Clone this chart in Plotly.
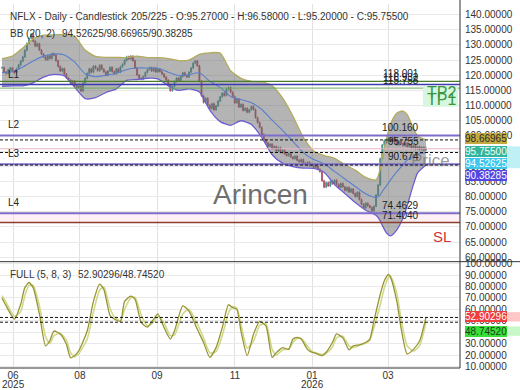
import plotly.graph_objects as go

# ---------------- data ----------------
closes = [
    122.5, 121.0, 120.6, 121.8, 122.4, 121.3, 120.8, 122.1, 123.4,
    124.6, 126.0, 128.2, 130.5, 132.2, 133.6,
    131.2, 129.6, 130.4, 128.3, 127.0, 126.0, 125.1, 126.4, 125.5,
    127.1, 126.6,
    124.8, 122.9, 121.4, 122.2, 120.4, 119.1, 118.4, 117.3, 118.1, 116.5, 115.8, 116.4,
    114.8,
    117.4, 119.0, 120.6, 122.1, 121.0, 123.0, 122.3, 121.5, 123.3, 122.0, 121.1, 120.0, 121.4,
    122.6, 121.2, 120.5, 122.1, 121.0, 122.8, 123.6,
    124.9, 126.1, 125.4, 126.3, 124.8, 122.4,
    120.1, 119.0, 118.7, 119.6,
    120.9, 121.9, 122.5, 121.4, 122.4, 121.1, 122.0, 121.2,
    120.4, 119.4, 118.4,
    116.8, 114.9,
    116.3, 117.9, 119.1, 118.2, 119.6, 120.8, 119.9, 119.4, 121.0, 122.4,
    124.0, 124.7, 123.1,
    118.0, 113.2, 111.0, 112.4, 110.1, 109.0, 110.6, 108.6,
    109.9, 111.5, 112.9, 114.1, 113.3, 115.4, 116.0,
    114.4, 113.0, 110.9, 112.1, 109.5, 110.4, 108.4,
    109.1, 107.8, 108.6, 109.7, 108.7,
    106.0, 104.4, 102.8, 100.5, 98.6,
    97.7, 96.6, 97.3, 95.8, 96.5, 95.0, 96.1, 94.5, 95.3, 94.0, 93.5, 94.2,
    93.0, 92.5, 93.3, 92.0, 91.5, 92.2, 91.0, 90.5, 91.3, 90.2, 90.8, 89.6, 90.1, 89.0, 88.2,
    85.2, 83.1, 84.6, 83.5, 85.0, 84.2, 85.4,
    84.0, 83.0, 84.3, 83.2, 82.0, 83.0, 81.5,
    82.5, 81.0, 80.0, 81.4, 79.0, 77.5, 76.2,
    77.8, 77.0, 76.4, 75.3, 76.8,
    80.5, 83.8,
    92.5,
    97.0, 98.5, 97.8, 99.2, 98.2, 99.6, 98.0, 97.1, 98.3, 97.5, 96.8,
    97.6, 96.5, 97.2, 96.0, 96.8, 95.8, 96.4, 95.5, 96.2, 95.27, 95.755,
]
last_ohlc = [95.27, 96.58, 95.20, 95.755]
total_slots = 225

bb_idx = [0, 5, 10, 15, 20, 25, 30, 35, 40, 45, 50, 55, 60, 65, 70, 75, 80, 85, 90, 95,
          100, 105, 110, 115, 120, 125, 130, 135, 140, 145, 150, 155, 160, 165, 170, 175,
          180, 182, 183, 185, 187, 190, 193, 195, 198, 200, 204]
bb_upper = [125.5, 126.3, 129.0, 132.0, 133.2, 133.3, 133.5, 132.8, 128.3, 126.2, 125.9, 125.9,
            125.8, 126.3, 125.8, 125.8, 125.5, 124.8, 125.0, 126.9, 127.4, 127.3, 121.5, 119.0,
            118.0, 117.8, 116.5, 112.5, 106.5, 99.5, 95.0, 93.5, 92.6, 90.5, 88.7, 86.3,
            85.5, 89.0, 93.0, 99.0, 104.0, 107.5, 108.2, 107.0, 102.5, 100.0, 98.66965]
bb_mid = [120.9, 121.2, 122.7, 124.7, 126.3, 127.0, 126.7, 124.3, 120.5, 119.5, 120.0, 120.6,
          121.9, 122.4, 122.4, 122.3, 121.0, 119.9, 120.2, 120.8, 118.0, 116.0, 113.0, 112.0,
          110.9, 108.7, 105.2, 101.8, 98.2, 94.5, 92.2, 90.8, 88.3, 85.8, 83.3, 80.9,
          79.7, 80.5, 81.7, 83.5, 85.5, 88.2, 90.5, 92.0, 93.2, 93.9, 94.52625]
bb_lower = [116.3, 116.5, 116.5, 117.5, 119.4, 120.3, 119.8, 116.0, 112.3, 112.6, 114.3, 115.5,
            118.3, 118.6, 119.0, 118.8, 116.5, 115.0, 115.5, 114.5, 108.5, 104.7, 103.5, 105.0,
            103.8, 99.5, 93.8, 91.0, 89.9, 89.4, 89.3, 88.0, 84.0, 81.0, 78.0, 75.5,
            73.8, 72.0, 70.5, 68.0, 67.0, 69.0, 73.0, 77.0, 84.0, 87.8, 90.38285]

stoch_idx = [0, 2, 6, 9, 11, 13, 15, 18, 21, 23, 25, 28, 31, 33, 35, 37, 41, 44, 47, 49, 52, 54,
             57, 59, 62, 64, 67, 70, 73, 75, 78, 81, 83, 87, 90, 94, 97, 100, 103, 106, 109, 111,
             113, 115, 118, 121, 124, 127, 130, 132, 135, 138, 140, 142, 144, 147, 149, 151, 154,
             156, 159, 161, 164, 167, 169, 172, 175, 177, 179, 182, 184, 186, 187, 190, 192, 195,
             198, 201, 204]
stoch_k = [70, 63, 51.5, 64.5, 79, 83.5, 79, 56, 28, 32.5, 41, 38.5, 29.5, 17.5, 19.5, 24, 41, 67,
           82, 77.5, 54.5, 51.5, 49.5, 67, 71.5, 69, 48.5, 44.5, 51.5, 56, 44, 34, 41, 63, 58.5,
           42.5, 31, 18, 26.5, 44, 64, 61.5, 60, 41, 19.5, 38, 49.5, 45.5, 18, 22, 26.5, 25, 34,
           35.5, 34, 25, 22.5, 21.5, 19.5, 22.5, 31, 38.5, 35, 24.5, 28, 29, 31, 34, 50, 73, 85,
           90.5, 88, 67, 44, 21, 25, 32.5, 52.90296]
stoch_d = [72, 66, 54, 58, 72, 81, 81, 63, 36, 30, 37, 39, 33, 22, 18.5, 21.5, 34, 58, 77, 79.5,
           61, 53.5, 50, 60, 70, 70.5, 55, 45.5, 49, 54, 48, 37, 37.5, 56, 60, 47, 35, 22, 23, 37,
           57, 62.5, 61, 47, 26, 32, 46, 47.5, 25, 20, 24.5, 25.5, 31, 34.5, 34.5, 28, 23.5, 22,
           20.5, 21.5, 27, 35, 36.5, 28, 26.5, 28.5, 30.5, 33, 44, 64, 79, 88, 89, 74, 52, 28,
           23.5, 28.5, 48.74520]

tick_idx = [5.3, 37.5, 74.6, 112.1, 149.2, 185.8]
tick_text = ["06", "08", "09", "11", "01", "03"]
year_text = {0: "2025", 4: "2026"}

price_ticks = list(range(60, 141, 5))
stoch_ticks = list(range(10, 101, 10))

# horizontal levels: (label, value, colour, width)
levels = [
    ("118.001", 118.001, "#4b7d2b", 1.2),
    ("116.932", 116.932, "#3c3cae", 1.6),
    ("115.758", 115.758, "#6aa85a", 1.0),
    ("100.160", 100.160, "#7d6cc9", 2.0),
    ("90.674", 90.674, "#7d6cc9", 2.0),
    ("74.4629", 74.4629, "#7d6cc9", 2.0),
    ("71.4040", 71.404, "#8b3f2c", 1.5),
]
level_names = {"116.932": "L1", "100.160": "L2", "90.674": "L3", "74.4629": "L4"}

# ---------------- figure ----------------
FONT = "Liberation Sans, Arial, sans-serif"
PW, PH = 460.0, 368.0


def px(x):
    return x / PW


def py(y):
    return (PH - y) / PH


n = len(closes)
xs = list(range(n))
opens = [closes[0]] + closes[:-1]
highs = [max(o, c) + 0.35 for o, c in zip(opens, closes)]
lows = [min(o, c) - 0.35 for o, c in zip(opens, closes)]
opens[-1], highs[-1], lows[-1], closes_last = last_ohlc
cl = closes[:-1] + [closes_last]

fig = go.Figure()

fig.add_trace(go.Candlestick(
    x=xs, open=opens, high=highs, low=lows, close=cl,
    increasing=dict(line=dict(color="#3f8f8c", width=0.8), fillcolor="#3f8f8c"),
    decreasing=dict(line=dict(color="#b04a5e", width=0.8), fillcolor="#b04a5e"),
    whiskerwidth=0, xaxis="x", yaxis="y", showlegend=False, hoverinfo="skip"))

fig.add_trace(go.Scatter(x=bb_idx, y=bb_upper, mode="lines",
                         line=dict(color="#b3ab5c", width=1.3, shape="spline", smoothing=0.6),
                         xaxis="x", yaxis="y", showlegend=False, hoverinfo="skip"))
fig.add_trace(go.Scatter(x=bb_idx, y=bb_lower, mode="lines", fill="tonexty",
                         fillcolor="rgba(105,105,105,0.5)",
                         line=dict(color="#6c5fd0", width=1.3, shape="spline", smoothing=0.6),
                         xaxis="x", yaxis="y", showlegend=False, hoverinfo="skip"))
fig.add_trace(go.Scatter(x=bb_idx, y=bb_mid, mode="lines",
                         line=dict(color="#5a7fcc", width=1.1, shape="spline", smoothing=0.6),
                         xaxis="x", yaxis="y", showlegend=False, hoverinfo="skip"))

fig.add_trace(go.Scatter(x=stoch_idx, y=stoch_d, mode="lines",
                         line=dict(color="#cfd98a", width=1.6, shape="spline", smoothing=0.6),
                         xaxis="x2", yaxis="y2", showlegend=False, hoverinfo="skip"))
fig.add_trace(go.Scatter(x=stoch_idx, y=stoch_k, mode="lines",
                         line=dict(color="#999433", width=1.3, shape="spline", smoothing=0.6),
                         xaxis="x2", yaxis="y2", showlegend=False, hoverinfo="skip"))

shapes = []
# pink band between SL and L4
shapes.append(dict(type="rect", xref="x domain", yref="y", x0=0, x1=1, y0=71.404, y1=74.4629,
                   fillcolor="rgba(255,190,210,0.22)", line=dict(width=0), layer="below"))
for lab, val, col, w in levels:
    shapes.append(dict(type="line", xref="x domain", yref="y", x0=0, x1=1, y0=val, y1=val,
                       line=dict(color=col, width=w)))
# price line
shapes.append(dict(type="line", xref="x domain", yref="y", x0=0, x1=1, y0=cl[-1], y1=cl[-1],
                   line=dict(color="#e8b4c4", width=1)))
# BB value dashed lines
for v in (bb_upper[-1], bb_mid[-1], bb_lower[-1]):
    shapes.append(dict(type="line", xref="x domain", yref="y", x0=0, x1=1, y0=v, y1=v,
                       line=dict(color="#111111", width=1, dash="3px,2px")))
# stochastic dashed lines
for v in (stoch_k[-1], stoch_d[-1]):
    shapes.append(dict(type="line", xref="x2 domain", yref="y2", x0=0, x1=1, y0=v, y1=v,
                       line=dict(color="#111111", width=1, dash="3px,2px")))
# frame lines
shapes.append(dict(type="line", xref="paper", yref="paper", x0=1, x1=1, y0=0, y1=1.02,
                   line=dict(color="#333333", width=1)))
shapes.append(dict(type="line", xref="paper", yref="paper", x0=0, x1=520 / PW, y0=py(260.5),
                   y1=py(260.5), line=dict(color="#333333", width=1)))
shapes.append(dict(type="line", xref="paper", yref="paper", x0=0, x1=1, y0=0, y1=0,
                   line=dict(color="#333333", width=1)))
# TP label background
shapes.append(dict(type="rect", xref="paper", yref="paper", x0=px(423), x1=px(458),
                   y0=py(104), y1=py(83), fillcolor="#d6f7df", line=dict(width=0)))
# light extensions of right labels
for (y0, y1, c) in [(144, 166, "#bff0f6"), (311.5, 321, "#ffc8c8"), (326, 335.5, "#c8f8c8")]:
    shapes.append(dict(type="rect", xref="paper", yref="paper", x0=px(506), x1=px(520),
                       y0=py(y1), y1=py(y0), fillcolor=c, line=dict(width=0)))

ann = []


def text(x, y, s, size=10, color="#333333", xanchor="left", **kw):
    d = dict(x=px(x), y=py(y), xref="paper", yref="paper", text=s, showarrow=False,
             xanchor=xanchor, yanchor="middle", font=dict(size=size, color=color, family=FONT))
    d.update(kw)
    ann.append(d)


text(8, 12.5, "NFLX - Daily - Candlestick")
text(129, 12.5, "%d/%d - O:%.5f - H:%.5f - L:%.5f - C:%.5f"
     % (n, total_slots, last_ohlc[0], last_ohlc[1], last_ohlc[2], last_ohlc[3]))
text(8, 29.5, "BB (20, 2)")
text(60, 29.5, "%.5f/%.5f/%.5f" % (bb_mid[-1], bb_upper[-1], bb_lower[-1]))
text(8, 273.5, "FULL (5, 8, 3)")
text(76, 273.5, "%.5f/%.5f" % (stoch_k[-1], stoch_d[-1]))

# watermark & labels
text(260, 193, "Arincen", size=28, color="#6f6f6f", xanchor="center")
text(452, 158, "Price", size=17, color="rgba(120,120,120,0.75)", xanchor="right")
text(442, 235, "SL", size=15, color="#d03434", xanchor="center")
text(441, 89, "TP2", size=16, color="#3b9440", xanchor="center")
text(441, 96.5, "TP1", size=16, color="#3b9440", xanchor="center")

for lab, val, col, w in levels:
    ann.append(dict(x=px(421), y=val, xref="paper", yref="y", text=lab, showarrow=False,
                    xanchor="right", yanchor="bottom", font=dict(size=10, color="#222222", family=FONT)))
    if lab in level_names:
        ann.append(dict(x=px(6), y=val, xref="paper", yref="y", text=level_names[lab],
                        showarrow=False, xanchor="left", yanchor="bottom", yshift=3,
                        font=dict(size=10, color="#222222", family=FONT)))
ann.append(dict(x=px(421), y=cl[-1], xref="paper", yref="y", text="%.3f" % cl[-1], showarrow=False,
                xanchor="right", yanchor="bottom", font=dict(size=10, color="#222222", family=FONT)))

# right value boxes
boxes = [
    (136.2, "%.5f" % bb_upper[-1], "#c2aa40", "#2a2a2a"),
    (149.0, "%.5f" % cl[-1], "#33b59c", "#f4fffb"),
    (161.0, "%.5f" % bb_mid[-1], "#3cc6ee", "#ffffff"),
    (173.0, "%.5f" % bb_lower[-1], "#5446df", "#ffffff"),
    (316.2, "%.5f" % stoch_k[-1], "#f03c3c", "#ffffff"),
    (330.7, "%.5f" % stoch_d[-1], "#3ade3a", "#1d3d1d"),
]
for y, s, bg, fc in boxes:
    text(465, y, s, size=10, color=fc, bgcolor=bg, borderpad=0, borderwidth=0)

# year labels under the month ticks
for k, yr in year_text.items():
    ann.append(dict(x=tick_idx[k], y=py(385), xref="x2", yref="paper", text=yr, showarrow=False,
                    xanchor="center", yanchor="middle", font=dict(size=10, color="#333333", family=FONT)))

xr = [-0.96, 220.4]
fig.update_layout(
    width=520, height=390, margin=dict(l=0, r=60, t=0, b=22),
    paper_bgcolor="white", plot_bgcolor="white",
    font=dict(family=FONT, size=10, color="#333333"),
    showlegend=False, shapes=shapes, annotations=ann,
    xaxis=dict(domain=[0, 1], anchor="y", range=xr, tickvals=tick_idx, ticktext=tick_text,
               showticklabels=False, showgrid=True, gridcolor="#e2e2e2", zeroline=False,
               rangeslider=dict(visible=False), fixedrange=True),
    xaxis2=dict(domain=[0, 1], anchor="y2", range=xr, matches="x", tickvals=tick_idx,
                ticktext=tick_text, showgrid=True, gridcolor="#e2e2e2", zeroline=False,
                ticks="", tickfont=dict(size=10, color="#333333")),
    yaxis=dict(domain=[py(260), 1], anchor="x", side="right", range=[58.69, 143.49],
               tickvals=price_ticks, tickformat=".5f", showgrid=True, gridcolor="#e9e9e9",
               zeroline=False, ticks="", ticklabelstandoff=4, tickfont=dict(size=10, color="#333333")),
    yaxis2=dict(domain=[0, py(261)], anchor="x2", side="right", range=[8.66, 101.3],
                tickvals=stoch_ticks, tickformat=".5f", showgrid=True, gridcolor="#e9e9e9",
                zeroline=False, ticks="", ticklabelstandoff=4, tickfont=dict(size=10, color="#333333")),
)

fig.write_html("out.html", config={"displayModeBar": False},
               post_script="document.body.style.margin='0px';")
